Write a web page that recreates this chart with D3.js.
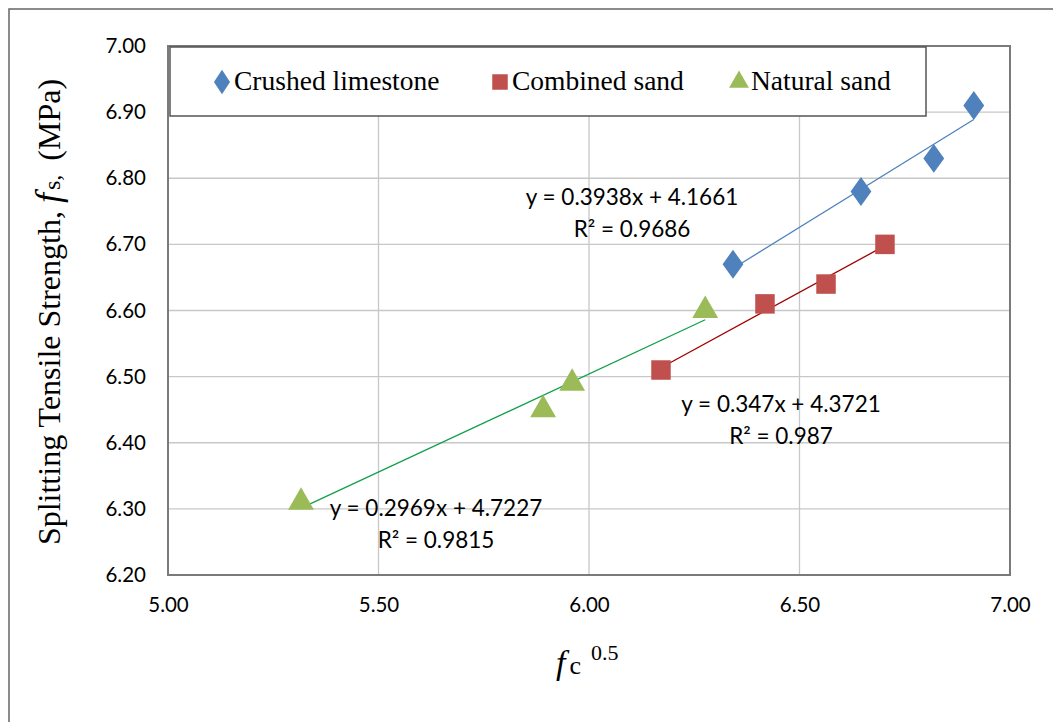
<!DOCTYPE html>
<html>
<head>
<meta charset="utf-8">
<script src="https://cdnjs.cloudflare.com/ajax/libs/d3/7.8.5/d3.min.js"></script>
<style>
  html, body { margin: 0; padding: 0; background: #fff; }
  svg { display: block; }
</style>
</head>
<body>
<svg id="chart" width="1053" height="722"></svg>
<script>
// Splitting tensile strength vs square root of compressive strength
const limestoneX = [6.342, 6.646, 6.819, 6.914];
const limestoneY = [6.67, 6.78, 6.83, 6.91];
const combinedX = [6.171, 6.418, 6.563, 6.703];
const combinedY = [6.51, 6.61, 6.64, 6.70];
const naturalX = [5.316, 5.891, 5.960, 6.276];
const naturalY = [6.31, 6.45, 6.49, 6.60];

const seriesNames = ["Crushed limestone", "Combined sand", "Natural sand"];
const fitSlopes = [0.3938, 0.347, 0.2969];
const fitIntercepts = [4.1661, 4.3721, 4.7227];
const fitR2 = ["0.9686", "0.987", "0.9815"];

const xTicks = [5.0, 5.5, 6.0, 6.5, 7.0];
const yTicks = [6.2, 6.3, 6.4, 6.5, 6.6, 6.7, 6.8, 6.9, 7.0];

const svg = d3.select("#chart");
const plot = { left: 168, right: 1010, top: 46, bottom: 575 };

const x = d3.scaleLinear().domain([5, 7]).range([plot.left, plot.right]);
const y = d3.scaleLinear().domain([6.2, 7.0]).range([plot.bottom, plot.top]);

const sansFont = "Lato, 'Open Sans', sans-serif";
const serifFont = "'Liberation Serif', 'Times New Roman', serif";

// outer chart frame (left and top edges visible)
svg.append("path")
  .attr("d", "M9,722 L9,9 L1053,9")
  .attr("fill", "none").attr("stroke", "#666").attr("stroke-width", 1.5);

// gridlines
const grid = svg.append("g");
grid.selectAll(".gx").data(xTicks).enter().append("line")
  .attr("x1", d => x(d)).attr("x2", d => x(d))
  .attr("y1", plot.top).attr("y2", plot.bottom)
  .attr("stroke", "#c8c8c8").attr("stroke-width", 1.3);
grid.selectAll(".gy").data(yTicks).enter().append("line")
  .attr("x1", plot.left).attr("x2", plot.right)
  .attr("y1", d => y(d)).attr("y2", d => y(d))
  .attr("stroke", "#c8c8c8").attr("stroke-width", 1.3);

// plot area border
svg.append("rect")
  .attr("x", plot.left).attr("y", plot.top)
  .attr("width", plot.right - plot.left).attr("height", plot.bottom - plot.top)
  .attr("fill", "none").attr("stroke", "#7a7a7a").attr("stroke-width", 2);

// axes (labels only)
const xAxis = d3.axisBottom(x).tickValues(xTicks).tickSize(0).tickPadding(0)
  .tickFormat(d3.format(".2f"));
const gx = svg.append("g").attr("transform", `translate(0,${plot.bottom + 22})`).call(xAxis);
gx.select(".domain").remove();
gx.selectAll("text").attr("font-family", sansFont)
  .attr("font-size", 20.5).attr("fill", "#000").attr("dy", "0.71em");

const yAxis = d3.axisLeft(y).tickValues(yTicks).tickSize(0).tickPadding(0)
  .tickFormat(d3.format(".2f"));
const gy = svg.append("g").attr("transform", `translate(${plot.left - 22},0)`).call(yAxis);
gy.select(".domain").remove();
gy.selectAll("text").attr("font-family", sansFont)
  .attr("font-size", 20.5).attr("fill", "#000");

// series definitions
const colors = ["#4f81bd", "#c0504d", "#9bbb59"];
const lineColors = ["#4f81bd", "#a00000", "#12a04a"];
const symbols = [d3.symbolDiamond, d3.symbolSquare, d3.symbolTriangle];
const symSizes = [240, 380, 290];
const xs = [limestoneX, combinedX, naturalX];
const ys = [limestoneY, combinedY, naturalY];

// trendlines
for (let i = 0; i < 3; i++) {
  const x0 = d3.min(xs[i]), x1 = d3.max(xs[i]);
  const f = v => fitSlopes[i] * v + fitIntercepts[i];
  svg.append("line")
    .attr("x1", x(x0)).attr("y1", y(f(x0)))
    .attr("x2", x(x1)).attr("y2", y(f(x1)))
    .attr("stroke", lineColors[i]).attr("stroke-width", 1.3);
}

// markers
for (let i = 0; i < 3; i++) {
  const pts = xs[i].map((v, k) => [v, ys[i][k]]);
  svg.append("g").selectAll("path").data(pts).enter().append("path")
    .attr("d", d3.symbol().type(symbols[i]).size(symSizes[i]))
    .attr("transform", d => `translate(${x(d[0])},${y(d[1])})` + (i === 0 ? " scale(1.25,1)" : ""))
    .attr("fill", colors[i]);
}

// trendline equations
const eqPos = [[632, 197], [781, 404], [436, 508]];
for (let i = 0; i < 3; i++) {
  const t = svg.append("text")
    .attr("font-family", sansFont)
    .attr("font-size", 22.5).attr("fill", "#000").attr("text-anchor", "middle");
  t.append("tspan").attr("x", eqPos[i][0]).attr("y", eqPos[i][1]).attr("dy", "0.35em")
    .text(`y = ${fitSlopes[i]}x + ${fitIntercepts[i]}`);
  t.append("tspan").attr("x", eqPos[i][0]).attr("y", eqPos[i][1] + 32).attr("dy", "0.35em")
    .text(`R² = ${fitR2[i]}`);
}

// legend
const leg = svg.append("g");
leg.append("rect")
  .attr("x", 170).attr("y", 47).attr("width", 756).attr("height", 69)
  .attr("fill", "#fff").attr("stroke", "#555").attr("stroke-width", 1.5);
const legX = [222, 500, 739];
for (let i = 0; i < 3; i++) {
  leg.append("path")
    .attr("d", d3.symbol().type(symbols[i]).size(i === 1 ? 240 : 170))
    .attr("transform", `translate(${legX[i]},82)` + (i === 0 ? " scale(1.15,1)" : ""))
    .attr("fill", colors[i]);
  leg.append("text")
    .attr("x", legX[i] + 12).attr("y", 90)
    .attr("font-family", serifFont)
    .attr("font-size", 27.5).attr("fill", "#000")
    .text(seriesNames[i]);
}

// y axis title
const yt = svg.append("text")
  .attr("transform", "translate(60,312) rotate(-90)")
  .attr("text-anchor", "middle")
  .attr("font-family", serifFont)
  .attr("font-size", 32).attr("fill", "#000");
yt.append("tspan").text("Splitting Tensile Strength, ");
yt.append("tspan").attr("font-style", "italic").attr("font-size", 36).text("f");
yt.append("tspan").attr("font-size", 24).attr("dx", 3).text("s, ");
yt.append("tspan").attr("dx", 8).text("(MPa)");

// x axis title
const xt = svg.append("text")
  .attr("x", 556).attr("y", 674)
  .attr("text-anchor", "start")
  .attr("font-family", serifFont)
  .attr("fill", "#000");
xt.append("tspan").attr("font-style", "italic").attr("font-size", 34).text("f");
xt.append("tspan").attr("font-size", 26).attr("dx", 4).text("c");
xt.append("tspan").attr("font-size", 22).attr("dy", -14).attr("dx", 10).text("0.5");
</script>
</body>
</html>
